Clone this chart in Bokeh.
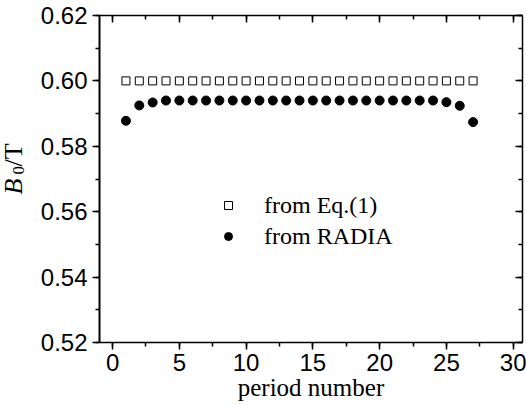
import math
from bokeh.plotting import figure
from bokeh.models import (LinearAxis, SingleIntervalTicker, Range1d, Legend, LegendItem, Label,
                          PrintfTickFormatter, CustomJSTickFormatter)
from bokeh.embed import file_html
from bokeh.resources import INLINE

# ---- data ----
period = list(range(1, 28))
b0_eq = [0.600] * 27
b0_radia = [0.5878, 0.5925, 0.5934, 0.5940, 0.5940, 0.5940, 0.5940, 0.5940, 0.5940,
            0.5940, 0.5940, 0.5940, 0.5940, 0.5940, 0.5940, 0.5940, 0.5940, 0.5940,
            0.5940, 0.5940, 0.5940, 0.5940, 0.5940, 0.5940, 0.5935, 0.5924, 0.5874]
legend_labels = ["from Eq.(1)", "from RADIA"]
x_label = "period number"

SHIFT = 32  # extra left border taken by the y-label panels, hidden by a negative margin

p = figure(width=526 + SHIFT, height=405, output_backend="svg", toolbar_location=None,
           x_range=Range1d(-0.98, 30.7), y_range=Range1d(0.52, 0.62),
           x_axis_location=None, y_axis_location=None,
           min_border_left=100, min_border_right=4, min_border_top=15, min_border_bottom=63,
           margin=(0, 0, 0, -SHIFT))
p.xgrid.visible = False
p.ygrid.visible = False
p.outline_line_color = "black"
p.outline_line_width = 1
p.background_fill_color = "white"
p.border_fill_color = "white"

xt = SingleIntervalTicker(interval=5, num_minor_ticks=2)
yt = SingleIntervalTicker(interval=0.02, num_minor_ticks=2)

def style(ax, show_labels, outward):
    ax.axis_line_color = "black"
    ax.axis_line_width = 1.5
    ax.major_tick_line_color = "black"
    ax.minor_tick_line_color = "black"
    ax.major_tick_line_width = 1.5
    ax.minor_tick_line_width = 1.5
    if outward:
        ax.major_tick_out = 7
        ax.major_tick_in = 0
        ax.minor_tick_out = 4
        ax.minor_tick_in = 0
    else:
        ax.major_tick_out = 0
        ax.major_tick_in = 7
        ax.minor_tick_out = 0
        ax.minor_tick_in = 4
    if show_labels:
        ax.major_label_text_font = "Liberation Sans"
        ax.major_label_text_font_size = "24px"
        ax.major_label_text_color = "black"
    else:
        ax.formatter = CustomJSTickFormatter(code="return '';")
        ax.major_label_standoff = 0

xb = LinearAxis(ticker=xt)
style(xb, True, True)
xb.major_label_standoff = 4
xb.axis_label = x_label
xb.axis_label_text_font = "Liberation Serif"
xb.axis_label_text_font_style = "normal"
xb.axis_label_text_font_size = "25px"
xb.axis_label_text_color = "black"
xb.axis_label_standoff = 0
p.add_layout(xb, "below")

yl = LinearAxis(ticker=yt, formatter=PrintfTickFormatter(format="%.2f"))
style(yl, True, True)
yl.major_label_standoff = 5
yl.axis_line_width = 2
p.add_layout(yl, "left")

xa = LinearAxis(ticker=xt)
style(xa, False, False)
p.add_layout(xa, "above")

yr = LinearAxis(ticker=yt)
style(yr, False, False)
p.add_layout(yr, "right")

r_eq = p.scatter(period, b0_eq, marker="square", size=8, fill_color="white",
                 line_color="black", line_width=1)
r_radia = p.scatter(period, b0_radia, marker="circle", size=9, fill_color="black",
                    line_color="black")

leg = Legend(items=[LegendItem(label=legend_labels[0], renderers=[r_eq]),
                    LegendItem(label=legend_labels[1], renderers=[r_radia])],
             location=(119, 92), orientation="vertical",
             background_fill_alpha=0, border_line_alpha=0,
             padding=0, margin=0, spacing=3,
             glyph_width=20, glyph_height=28, label_height=28,
             label_standoff=26,
             label_text_font="Liberation Serif", label_text_font_size="24px",
             label_text_color="black")
p.add_layout(leg, "center")

# y axis label: B_0/T (italic B, subscript 0); placed in the left side panel, canvas units
lab_B = Label(x=13 + SHIFT, y=194, x_units="canvas", y_units="canvas", text="B", angle=math.pi / 2,
              text_font="Liberation Serif", text_font_style="italic", text_font_size="26px",
              text_align="left", text_baseline="alphabetic", text_color="black")
lab_0 = Label(x=18 + SHIFT, y=174, x_units="canvas", y_units="canvas", text="0", angle=math.pi / 2,
              text_font="Liberation Serif", text_font_size="17px",
              text_align="left", text_baseline="alphabetic", text_color="black")
lab_T = Label(x=13 + SHIFT, y=166, x_units="canvas", y_units="canvas", text="/T", angle=math.pi / 2,
              text_font="Liberation Serif", text_font_size="26px",
              text_align="left", text_baseline="alphabetic", text_color="black")
for lb in (lab_B, lab_0, lab_T):
    p.add_layout(lb, "left")

open("out.html", "w").write(file_html(p, INLINE))
